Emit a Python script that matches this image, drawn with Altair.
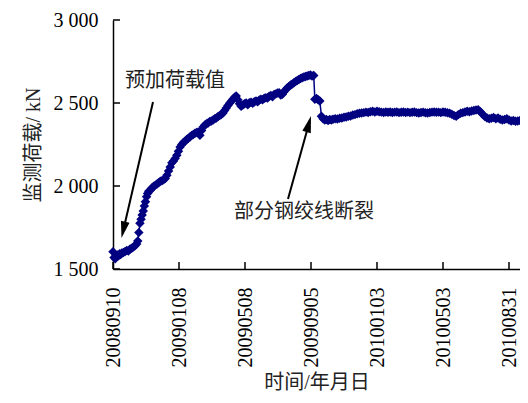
import altair as alt
import pandas as pd

START = "2008-09-10"
days = [0, 2, 4, 6, 8, 10, 12, 14, 16, 19, 22, 25, 28, 31, 34, 37, 40, 43, 45, 47, 49, 51, 53, 55, 57, 59,
        61, 63, 65, 68, 71, 74, 77, 80, 83, 86, 89, 92, 95, 98, 101, 104, 107, 110, 113, 116, 119, 122, 125,
        128, 131, 134, 137, 140, 143, 146, 149, 152, 155, 158, 161, 164, 167, 170, 173, 176, 179, 182, 185,
        188, 191, 194, 197, 200, 203, 206, 209, 212, 215, 218, 221, 224, 227, 230, 233, 236, 239, 242, 245,
        248, 251, 254, 257, 260, 263, 266, 269, 272, 275, 278, 281, 284, 287, 290, 293, 296, 299, 302, 305,
        308, 311, 314, 317, 320, 323, 326, 329, 332, 335, 338, 341, 344, 347, 350, 353, 356, 359, 362, 365,
        367, 370, 373, 376, 379, 382, 385, 388, 391, 394, 397, 400, 404, 408, 412, 416, 420, 424, 428, 432,
        436, 440, 444, 448, 452, 456, 460, 464, 468, 472, 476, 480, 484, 488, 492, 496, 500, 504, 508, 512,
        516, 520, 524, 528, 532, 536, 540, 544, 548, 552, 556, 560, 564, 568, 572, 576, 580, 584, 588, 592,
        596, 600, 604, 608, 612, 616, 620, 624, 628, 632, 636, 640, 644, 648, 652, 656, 660, 664, 668, 672,
        676, 680, 684, 688, 692, 696, 700, 704, 708, 712, 716, 720, 724, 728, 732, 736, 740]
load = [1604, 1570, 1562, 1578, 1585, 1580, 1592, 1588, 1597, 1600, 1605, 1612, 1608, 1620, 1625, 1632, 1640,
        1650, 1668, 1720, 1775, 1800, 1825, 1850, 1880, 1905, 1935, 1955, 1968, 1975, 1990, 1998, 2005, 2012,
        2020, 2028, 2032, 2038, 2045, 2065, 2090, 2115, 2140, 2150, 2165, 2185, 2210, 2235, 2250, 2262, 2270,
        2280, 2288, 2295, 2305, 2310, 2318, 2322, 2325, 2305, 2335, 2355, 2368, 2375, 2380, 2388, 2392, 2398,
        2405, 2410, 2418, 2425, 2430, 2440, 2455, 2470, 2485, 2498, 2510, 2522, 2535, 2542, 2520, 2495, 2480,
        2488, 2495, 2500, 2490, 2502, 2505, 2498, 2508, 2512, 2508, 2518, 2522, 2520, 2528, 2532, 2530, 2540,
        2545, 2538, 2552, 2555, 2560, 2562, 2548, 2552, 2568, 2580, 2592, 2600, 2608, 2615, 2622, 2630, 2636,
        2642, 2648, 2652, 2656, 2660, 2662, 2666, 2668, 2662, 2665, 2522, 2527, 2520, 2512, 2420, 2405, 2398,
        2400, 2395, 2400, 2398, 2402, 2405, 2403, 2408, 2410, 2414, 2416, 2420, 2422, 2428, 2430, 2435, 2438,
        2440, 2442, 2445, 2443, 2448, 2450, 2446, 2450, 2448, 2445, 2443, 2446, 2444, 2446, 2443, 2445, 2446,
        2442, 2444, 2446, 2443, 2445, 2442, 2444, 2446, 2442, 2440, 2443, 2445, 2441, 2440, 2443, 2445, 2446,
        2444, 2445, 2442, 2446, 2444, 2441, 2438, 2432, 2425, 2420, 2430, 2438, 2442, 2446, 2450, 2448, 2452,
        2455, 2458, 2460, 2448, 2432, 2418, 2410, 2405, 2408, 2412, 2405, 2410, 2402, 2398, 2400, 2405, 2398,
        2392, 2395, 2390, 2392, 2395]
tick_dates = ["2008-09-10", "2009-01-08", "2009-05-08", "2009-09-05", "2010-01-03", "2010-05-03", "2010-08-31"]
y_ticks = [1500, 2000, 2500, 3000]
note1 = "预加荷载值"
note2 = "部分钢绞线断裂"
x_title = "时间/年月日"
y_title = "监测荷载/ kN"

W, H = 407, 249
NAVY = "#000080"
FONT = "Liberation Serif, Noto Sans CJK SC"

df = pd.DataFrame({"date": pd.Timestamp(START) + pd.to_timedelta(days, unit="D"), "load": load})
tdf = pd.DataFrame({"date": pd.to_datetime(tick_dates)})
ydf = pd.DataFrame({"load": y_ticks})
one = pd.DataFrame({"k": [0]})


def dt(s):
    y, m, d = s.split("-")
    return alt.DateTime(year=int(y), month=int(m), date=int(d))


xscale = alt.Scale(domain=[dt("2008-09-10"), dt("2010-09-20")], nice=False)
yscale = alt.Scale(domain=[1500, 3000], nice=False)

xenc = alt.X("date:T", scale=xscale,
             axis=alt.Axis(values=[dt(s) for s in tick_dates], format="%Y%m%d", formatType="time",
                           labelAngle=270, labelPadding=18, ticks=False, tickSize=0, grid=False,
                           labelOverlap=False, labelFlush=False, title=x_title, titlePadding=5,
                           domainColor="black", domainWidth=1.5))
yenc = alt.Y("load:Q", scale=yscale,
             axis=alt.Axis(values=y_ticks, labelExpr="replace(format(datum.value, ','), ',', ' ')",
                           labelPadding=15, ticks=False, tickSize=0, grid=False, labelFlush=False,
                           labelOverlap=False, title=y_title, titlePadding=10,
                           domainColor="black", domainWidth=1.5))

line = alt.Chart(df).mark_line(color=NAVY, strokeWidth=1.5, clip=False).encode(x=xenc, y=yenc)
pts = alt.Chart(df).mark_point(shape="diamond", filled=True, size=90, color=NAVY, opacity=1).encode(
    x=xenc, y=yenc)

xticks = alt.Chart(tdf).mark_rule(color="black", strokeWidth=1.5).encode(
    x=xenc, y=alt.value(H), y2=alt.value(H - 7))
yticks = alt.Chart(ydf).mark_rule(color="black", strokeWidth=1.5).encode(
    y=yenc, x=alt.value(0), x2=alt.value(7))

ARROW = "M0,0L-0.45,1.7L0.45,1.7Z"
shaft1 = alt.Chart(one).mark_rule(color="black", strokeWidth=2).encode(
    x=alt.value(40), y=alt.value(82), x2=alt.value(9.9), y2=alt.value(212))
head1 = alt.Chart(one).mark_point(shape=ARROW, filled=True, color="black", opacity=1, size=380, angle=193).encode(
    x=alt.value(8.5), y=alt.value(218))
shaft2 = alt.Chart(one).mark_rule(color="black", strokeWidth=2).encode(
    x=alt.value(175), y=alt.value(179), x2=alt.value(196.4), y2=alt.value(102))
head2 = alt.Chart(one).mark_point(shape=ARROW, filled=True, color="black", opacity=1, size=380, angle=15.5).encode(
    x=alt.value(198), y=alt.value(96))

text1 = alt.Chart(one).mark_text(align="left", baseline="middle", font=FONT, fontSize=20, color="#222").encode(
    x=alt.value(12), y=alt.value(61), text=alt.value(note1))
text2 = alt.Chart(one).mark_text(align="left", baseline="middle", font=FONT, fontSize=20, color="#222").encode(
    x=alt.value(121), y=alt.value(192), text=alt.value(note2))

chart = alt.layer(line, pts, xticks, yticks, shaft1, head1, shaft2, head2, text1, text2).properties(
    width=W, height=H,
    padding={"left": 105, "top": 12, "right": 0, "bottom": 126},
    autosize=alt.AutoSizeParams(type="none"),
).configure_view(stroke=None).configure_axis(
    labelFont=FONT, titleFont=FONT, labelFontSize=20, titleFontSize=20,
    labelColor="black", titleColor="#222", titleFontWeight="normal",
)

chart.save("out.html", embed_options={"renderer": "svg", "actions": False})
